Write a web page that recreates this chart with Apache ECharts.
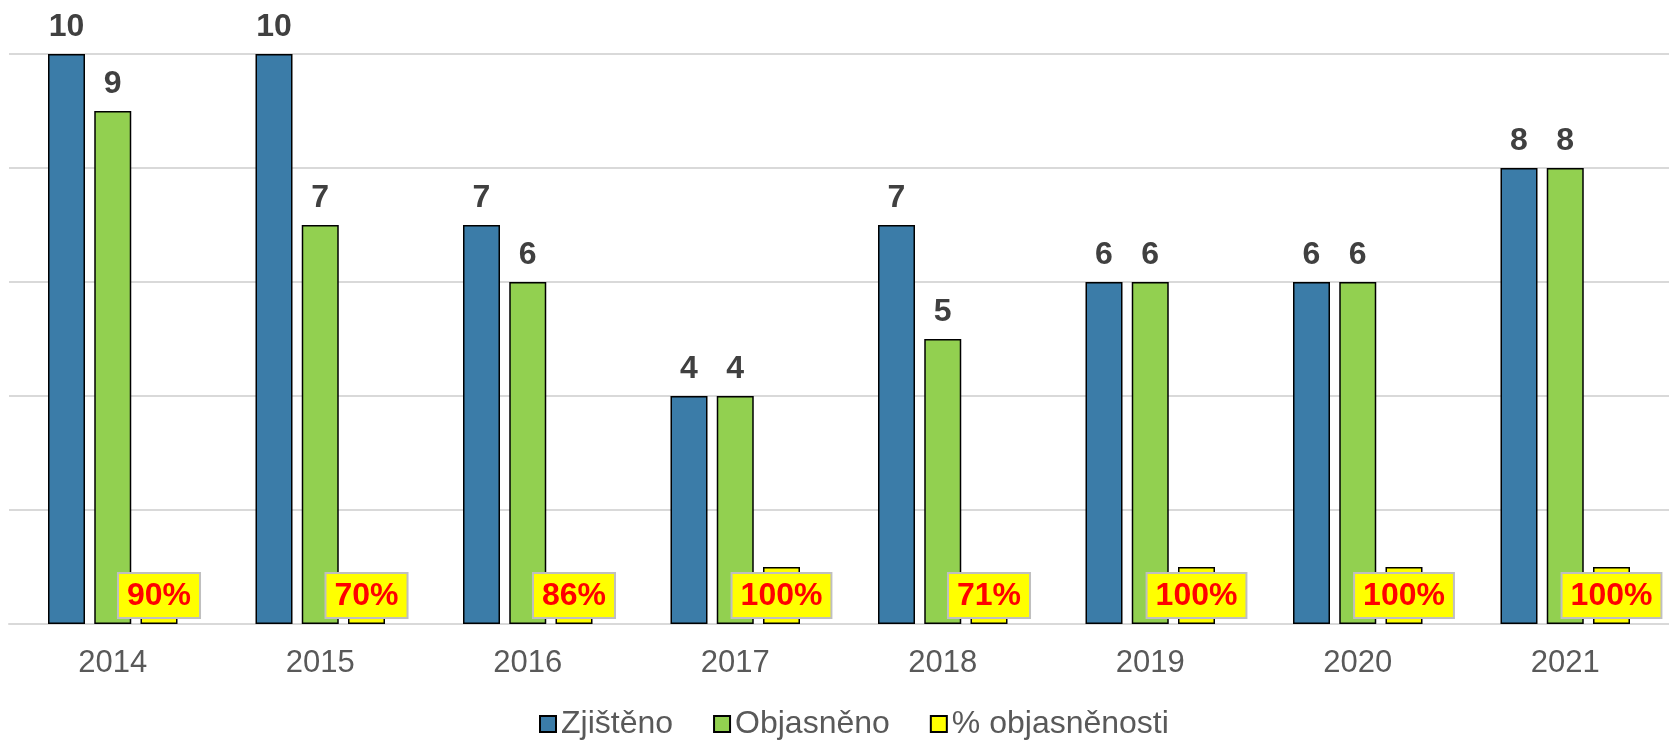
<!DOCTYPE html>
<html>
<head>
<meta charset="utf-8">
<script src="https://cdn.jsdelivr.net/npm/echarts@6/dist/echarts.min.js"></script>
<style>
  html, body { margin: 0; padding: 0; background: #fff; }
  #chart { width: 1669px; height: 740px; }
</style>
</head>
<body>
<div id="chart"></div>
<script>
const years = ['2014', '2015', '2016', '2017', '2018', '2019', '2020', '2021']
const zjisteno = [10, 10, 7, 4, 7, 6, 6, 8]
const objasneno = [9, 7, 6, 4, 5, 6, 6, 8]
const objasnenostPct = [90, 70, 86, 100, 71, 100, 100, 100]

const font = '"Liberation Sans", Arial, sans-serif'
const border = { borderColor: '#000', borderWidth: 1.5 }

const valueLabel = {
  show: true,
  position: 'top',
  distance: 11,
  color: '#404040',
  fontFamily: font,
  fontWeight: 'bold',
  fontSize: 32
}

const chart = echarts.init(document.getElementById('chart'))
chart.setOption({
  animation: false,
  textStyle: { fontFamily: font },
  grid: { left: 9, right: -10, top: 54, bottom: 116, containLabel: false },
  legend: {
    bottom: -5,
    left: 534,
    icon: 'rect',
    itemWidth: 16,
    itemHeight: 16,
    itemGap: 40,
    textStyle: { color: '#595959', fontSize: 32, fontFamily: font },
    data: ['Zjištěno', 'Objasněno', '% objasněnosti']
  },
  xAxis: {
    type: 'category',
    data: years,
    axisLine: { lineStyle: { color: '#d9d9d9', width: 2 } },
    axisTick: { show: false },
    axisLabel: { color: '#595959', fontSize: 31, fontFamily: font, margin: 24 }
  },
  yAxis: {
    type: 'value',
    min: 0,
    max: 10,
    interval: 2,
    axisLabel: { show: false },
    axisLine: { show: false },
    axisTick: { show: false },
    splitLine: { lineStyle: { color: '#d9d9d9', width: 2 } }
  },
  series: [
    {
      name: 'Zjištěno',
      type: 'bar',
      data: zjisteno,
      barWidth: 37,
      barGap: '25%',
      itemStyle: { color: '#3b7ca8', ...border },
      label: valueLabel
    },
    {
      name: 'Objasněno',
      type: 'bar',
      data: objasneno,
      barWidth: 37,
      barGap: '25%',
      itemStyle: { color: '#92d050', ...border },
      label: valueLabel
    },
    {
      name: '% objasněnosti',
      type: 'bar',
      data: objasnenostPct.map((p) => p / 100),
      barWidth: 37,
      barGap: '25%',
      z: 3,
      itemStyle: { color: '#ffff00', ...border },
      label: {
        show: true,
        position: 'insideBottom',
        distance: 7,
        formatter: (p) => objasnenostPct[p.dataIndex] + '%',
        color: '#ff0000',
        fontFamily: font,
        fontWeight: 'bold',
        fontSize: 32,
        backgroundColor: '#ffff00',
        borderColor: '#bfbfbf',
        borderWidth: 2,
        padding: [6, 8, 5, 8]
      }
    }
  ]
})
</script>
</body>
</html>
